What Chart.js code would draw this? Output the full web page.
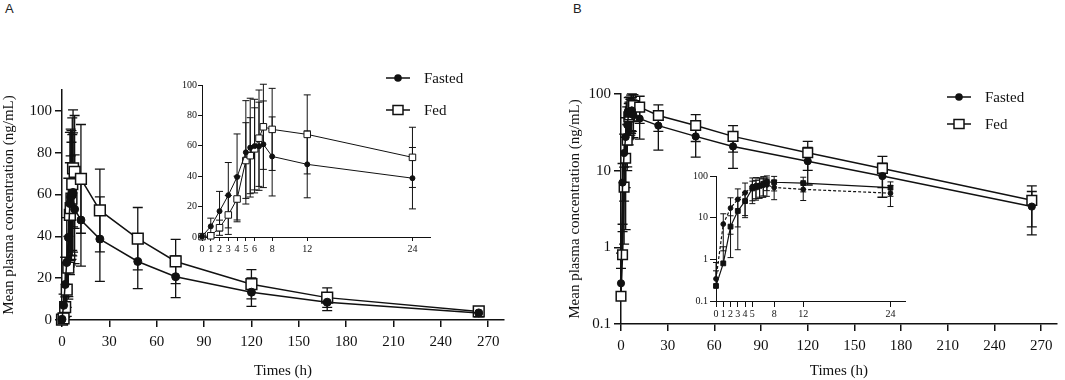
<!DOCTYPE html>
<html lang="en">
<head>
  <meta charset="UTF-8">
  <title>Mean plasma concentration - Fasted vs Fed</title>
  <script src="https://cdn.jsdelivr.net/npm/chart.js"></script>
  <style>
    body { margin: 0; background: #fff; }
    #fig { position: relative; width: 1065px; height: 380px; overflow: hidden; background: #fff; }
    #fig canvas { position: absolute; }
    .tag { position: absolute; font: 13px 'Liberation Sans', Arial, sans-serif; color: #222; }
  </style>
</head>
<body>
  <div id="fig">
    <div class="tag" style="left:5px; top:1px">A</div>
    <div class="tag" style="left:573px; top:1px">B</div>
    <canvas id="mainA" width="530" height="380" style="left:0; top:0"></canvas>
    <canvas id="insetA" width="300" height="190" style="left:140px; top:70px"></canvas>
    <canvas id="mainB" width="530" height="380" style="left:535px; top:0"></canvas>
    <canvas id="insetB" width="265" height="165" style="left:650px; top:160px"></canvas>
  </div>

  <script>
    // sampling times (h) and mean ± SD plasma concentrations (ng/mL)
    const times = [0, 1, 2, 3, 4, 5, 5.5, 6, 6.5, 7, 8, 12, 24, 48, 72, 120, 168, 264];
    const fastedMean = [0.34, 7.0, 17, 27.5, 39.5, 55.7, 58.8, 59.8, 59.7, 61, 53, 47.8, 38.7, 28, 20.7, 13.3, 8.5, 3.4];
    const fastedSD = [0.5, 5.4, 13, 21.5, 28.3, 34, 32.5, 30.8, 29, 28.5, 26, 22, 20.2, 13, 10, 6.8, 4, 1.95];
    const fedMean = [0.23, 0.8, 6.1, 14.5, 25, 50.3, 53.5, 58, 65, 72.5, 70.8, 67.5, 52.4, 38.9, 28, 17.1, 10.7, 4.1];
    const fedSD = [0.3, 1.2, 5, 12.8, 15, 24.9, 25, 27, 31.7, 28, 27, 26, 19.8, 14.9, 10.6, 7, 4.7, 2.25];

    // tick labels
    const mainXTicks = [0, 30, 60, 90, 120, 150, 180, 210, 240, 270];
    const linYTicks = [0, 20, 40, 60, 80, 100];
    const logYTicks = [0.1, 1, 10, 100];
    const insetAXTicks = [0, 1, 2, 3, 4, 5, 6, 8, 12, 24];
    const insetBXTicks = [0, 1, 2, 3, 4, 5, 8, 12, 24];

    const serif = "'Liberation Serif', 'Times New Roman', serif";
    const ink = '#111';

    // vertical SD bars with caps, drawn under the lines and markers
    const errorBars = {
      id: 'errorBars',
      beforeDatasetsDraw(chart, args, o) {
        const { ctx, scales: { x, y } } = chart;
        const isLog = y.type === 'logarithmic';
        ctx.save();
        ctx.strokeStyle = ink;
        ctx.lineWidth = o.width;
        chart.data.datasets.forEach(ds => {
          ds.data.forEach((p, i) => {
            const px = x.getPixelForValue(p.x);
            const yHi = y.getPixelForValue(p.y + ds.sd[i]);
            let lo = p.y - ds.sd[i];
            let loCap = true;
            if (isLog && lo <= 0) { lo = p.y; loCap = false; }
            if (!isLog && lo < y.min) { lo = y.min; loCap = false; }
            const yLo = y.getPixelForValue(lo);
            ctx.beginPath();
            ctx.moveTo(px, yHi); ctx.lineTo(px, yLo);
            ctx.moveTo(px - o.cap, yHi); ctx.lineTo(px + o.cap, yHi);
            if (loCap) { ctx.moveTo(px - o.cap, yLo); ctx.lineTo(px + o.cap, yLo); }
            ctx.stroke();
          });
        });
        ctx.restore();
      }
    };

    // legend: line-marker-line symbol followed by dataset label
    const keyBox = {
      id: 'keyBox',
      afterDraw(chart, args, o) {
        const ctx = chart.ctx;
        ctx.save();
        chart.data.datasets.forEach((ds, i) => {
          const y = o.y + i * o.gap;
          const cx = o.x + 12;
          ctx.strokeStyle = ink;
          ctx.lineWidth = 1.5;
          ctx.beginPath();
          ctx.moveTo(o.x, y); ctx.lineTo(o.x + 24, y);
          ctx.stroke();
          ctx.beginPath();
          if (ds.pointStyle === 'circle') {
            ctx.fillStyle = ink;
            ctx.arc(cx, y, 3.8, 0, Math.PI * 2);
            ctx.fill();
          } else {
            ctx.fillStyle = '#fff';
            ctx.rect(cx - 5, y - 4.5, 10, 9);
            ctx.fill();
            ctx.stroke();
          }
          ctx.fillStyle = ink;
          ctx.font = '15px ' + serif;
          ctx.textBaseline = 'middle';
          ctx.fillText(ds.label, o.x + 38, y + 1);
        });
        ctx.restore();
      }
    };

    function buildChart(id, o) {
      const n = times.filter(t => t <= o.lastTime).length;
      const pts = arr => times.slice(0, n).map((t, i) => ({ x: t, y: arr[i] }));
      const tickFont = { family: serif, size: o.font };
      const grid = { drawOnChartArea: false, drawTicks: true, tickLength: o.tickLen, color: ink, lineWidth: o.axisW };
      const border = { display: true, color: ink, width: o.axisW };
      return new Chart(document.getElementById(id), {
        type: 'scatter',
        data: {
          datasets: [
            {
              label: 'Fasted', data: pts(fastedMean), sd: fastedSD.slice(0, n),
              showLine: true, borderColor: ink, borderWidth: o.line, borderDash: o.fastedDash || [],
              pointStyle: 'circle', pointRadius: o.circle, pointBackgroundColor: ink,
              pointBorderColor: ink, pointBorderWidth: 1, clip: false
            },
            {
              label: 'Fed', data: pts(fedMean), sd: fedSD.slice(0, n),
              showLine: true, borderColor: ink, borderWidth: o.line,
              pointStyle: 'rect', pointRadius: o.square, pointBackgroundColor: o.squareFill,
              pointBorderColor: ink, pointBorderWidth: o.squareBorder, clip: false
            }
          ]
        },
        options: {
          responsive: false,
          animation: false,
          layout: { padding: o.pad },
          plugins: {
            legend: { display: false },
            tooltip: { enabled: false },
            errorBars: { width: o.barW, cap: o.cap },
            keyBox: o.key || false
          },
          scales: {
            x: {
              type: 'linear', min: 0, max: o.xMax,
              afterBuildTicks: s => { s.ticks = o.xTicks.map(v => ({ value: v })); },
              afterFit: s => { s.height = o.xHeight; },
              ticks: { font: tickFont, color: ink, padding: o.xPad, maxRotation: 0, autoSkip: false, callback: v => String(v) },
              grid, border,
              title: { display: !!o.titles, text: 'Times (h)', font: { family: serif, size: 15 }, color: ink, padding: 0 }
            },
            y: {
              type: o.log ? 'logarithmic' : 'linear', min: o.yMin, max: o.yMax,
              afterBuildTicks: s => { s.ticks = o.yTicks.map(v => ({ value: v })); },
              afterFit: s => { s.width = o.yWidth; },
              ticks: { font: tickFont, color: ink, padding: o.yPad, autoSkip: false, callback: v => String(v) },
              grid, border,
              title: { display: !!o.titles, text: 'Mean plasma concentration (ng/mL)', font: { family: serif, size: 15 }, color: ink, padding: 0 }
            }
          }
        },
        plugins: [errorBars, keyBox]
      });
    }

    // A: linear main plot
    buildChart('mainA', {
      lastTime: 300, xMax: 280, yMin: 0, yMax: 110, xTicks: mainXTicks, yTicks: linYTicks,
      pad: { left: 0, top: 90, right: 26, bottom: 0 }, yWidth: 62, xHeight: 60,
      font: 15, tickLen: 7, xPad: 6, yPad: 3, axisW: 1.5, line: 1.5,
      circle: 4, square: 7.6, squareFill: '#fff', squareBorder: 1.5, barW: 1.3, cap: 5,
      titles: true, key: { x: 386, y: 78, gap: 32 }
    });

    // A: inset 0-24 h
    buildChart('insetA', {
      lastTime: 24, xMax: 26, yMin: 0, yMax: 100, xTicks: insetAXTicks, yTicks: linYTicks,
      pad: { left: 0, top: 15, right: 10, bottom: 0 }, yWidth: 62, xHeight: 23,
      font: 10, tickLen: 4, xPad: 2, yPad: 1, axisW: 1, line: 1,
      circle: 2.5, square: 4.6, squareFill: '#fff', squareBorder: 1, barW: 1, cap: 3.5
    });

    // B: log main plot
    buildChart('mainB', {
      lastTime: 300, log: true, xMax: 280, yMin: 0.1, yMax: 100, xTicks: mainXTicks, yTicks: logYTicks,
      pad: { left: 31, top: 94, right: 3, bottom: 0 }, yWidth: 55, xHeight: 56,
      font: 15, tickLen: 7, xPad: 6, yPad: 3, axisW: 1.5, line: 1.5,
      circle: 3.6, square: 6.8, squareFill: '#fff', squareBorder: 1.5, barW: 1.3, cap: 5,
      titles: true, key: { x: 412, y: 97, gap: 27 }
    });

    // B: log inset 0-24 h
    buildChart('insetB', {
      lastTime: 24, log: true, xMax: 26, yMin: 0.1, yMax: 100, xTicks: insetBXTicks, yTicks: logYTicks,
      pad: { left: 0, top: 16, right: 10, bottom: 0 }, yWidth: 66, xHeight: 24,
      font: 10, tickLen: 6, xPad: 1, yPad: 2, axisW: 1, line: 1.2, fastedDash: [3, 2],
      circle: 2.4, square: 3.4, squareFill: ink, squareBorder: 1, barW: 1, cap: 3
    });
  </script>
</body>
</html>
